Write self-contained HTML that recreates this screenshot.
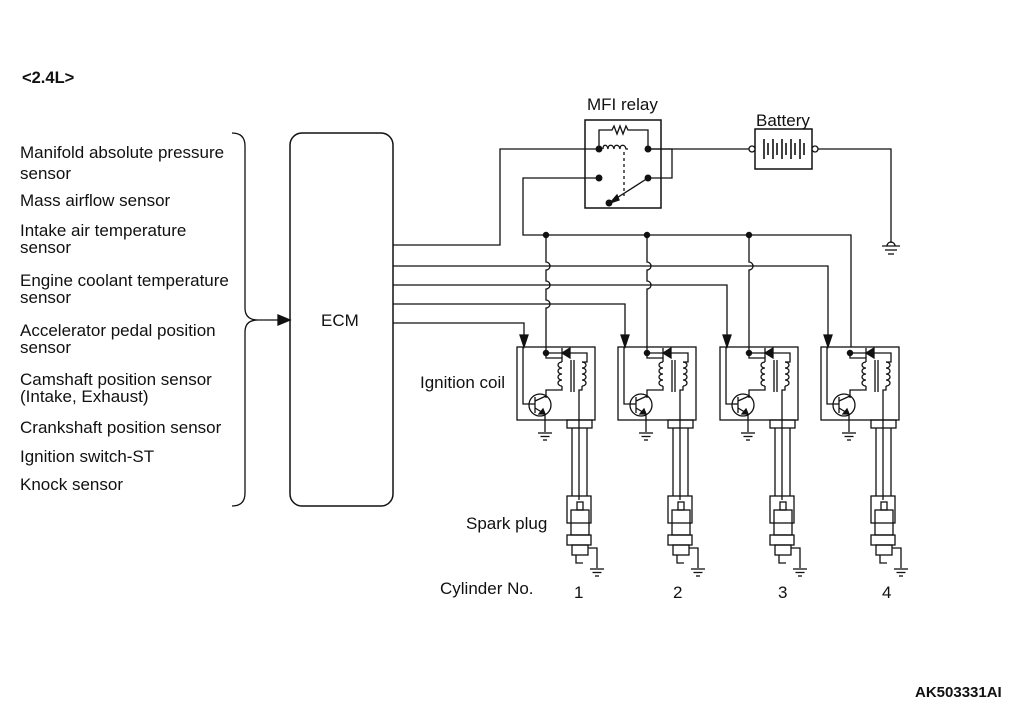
<!DOCTYPE html>
<html><head><meta charset="utf-8"><style>
html,body{margin:0;padding:0;background:#fff;}
svg{display:block;}
text{font-family:"Liberation Sans",Arial,sans-serif;fill:#111;}
</style></head><body>
<svg width="1010" height="709" viewBox="0 0 1010 709" xmlns="http://www.w3.org/2000/svg">
<defs>
<g id="gnd"><line x1="-7" y1="0" x2="7" y2="0"/><line x1="-4.5" y1="3.5" x2="4.5" y2="3.5"/><line x1="-2" y1="7" x2="2" y2="7"/></g>
<g id="coil">
 <rect x="517" y="347" width="78" height="73"/>
 <path d="M520,335 L528,335 L524,347 Z" fill="#111"/>
 <polyline points="523,347 523,404 531,404"/>
 <circle cx="546" cy="353" r="2.6" fill="#111"/>
 <polyline points="546,353 587,353 587,362 582,362"/>
 <path d="M562,348 L562,358 M562,353 L570,348 L570,358 Z" fill="#111"/>
 <polyline points="546,353 546,358 562,358 562,362"/>
 <path d="M562,362 a4,3 0 1 0 0,6 a4,3 0 1 0 0,6 a4,3 0 1 0 0,6 a4,3 0 1 0 0,6" />
 <path d="M582,362 a4,3 0 1 1 0,6 a4,3 0 1 1 0,6 a4,3 0 1 1 0,6 a4,3 0 1 1 0,6" />
 <line x1="571" y1="360" x2="571" y2="392"/><line x1="574" y1="360" x2="574" y2="392"/>
 <polyline points="562,386 562,390 546,390 546,398"/>
 <polyline points="582,386 582,390 579,390 579,500"/>
 <circle cx="540" cy="405" r="11"/>
 <line x1="535" y1="397" x2="535" y2="413"/>
 <line x1="531" y1="404" x2="535" y2="404"/>
 <line x1="535" y1="401" x2="546" y2="396"/>
 <line x1="535" y1="408" x2="545" y2="414"/>
 <path d="M545,414 L539,414 L543,409 Z" fill="#111"/>
 <polyline points="545,414 545,432"/>
 <use href="#gnd" x="545" y="433"/>
 <rect x="567" y="420" width="25" height="8"/>
 <line x1="572" y1="428" x2="572" y2="496"/><line x1="587" y1="428" x2="587" y2="496"/>
 <rect x="567" y="496" width="24" height="27"/>
 <rect x="577" y="502" width="6" height="8"/>
 <rect x="571" y="510" width="18" height="25"/>
 <rect x="567" y="535" width="24" height="10"/>
 <rect x="572" y="545" width="16" height="10"/>
 <polyline points="576,555 576,563 583,563"/>
 <polyline points="588,548 597,548 597,568"/>
 <use href="#gnd" x="597" y="569"/>
</g>
</defs>
<g stroke="#111" stroke-width="1.3" fill="none">
 <path d="M232,133 Q245,133 245,146 L245,308 Q245,320 258,320 Q245,320 245,332 L245,493 Q245,506 232,506"/>
 <line x1="258" y1="320" x2="280" y2="320"/>
 <path d="M278,315 L290,320 L278,325 Z" fill="#111"/>
 <rect x="290" y="133" width="103" height="373" rx="12" stroke-width="1.5"/>
 <rect x="585" y="120" width="76" height="88" stroke-width="1.5"/>
 <polyline points="599,149 599,130 612,130 614,126 617,134 620,126 623,134 626,126 628,130 648,130 648,149"/>
 <path d="M603,149 c0,-5 4,-5 5,0 c0,-5 5,-5 6,0 c0,-5 5,-5 6,0 c0,-5 5,-5 6,0 c1,0 1,0 2,0"/>
 <line x1="624" y1="152" x2="624" y2="196" stroke-dasharray="3,3"/>
 <line x1="648" y1="178" x2="612" y2="201"/>
 <path d="M610,203 L617,195 L619,200 Z" fill="#111"/>
 <circle cx="599" cy="149" r="2.8" fill="#111"/><circle cx="648" cy="149" r="2.8" fill="#111"/>
 <circle cx="599" cy="178" r="2.8" fill="#111"/><circle cx="648" cy="178" r="2.8" fill="#111"/>
 <circle cx="609" cy="203" r="2.8" fill="#111"/>
 <polyline points="393,245 500,245 500,149 599,149"/>
 <line x1="648" y1="149" x2="749" y2="149"/>
 <polyline points="648,149 672,149 672,178 648,178"/>
 <polyline points="599,178 523,178 523,235 851,235 851,347"/>
 <rect x="755" y="129" width="57" height="40" stroke-width="1.5"/>
 <circle cx="752" cy="149" r="3" fill="#fff"/><circle cx="815" cy="149" r="3" fill="#fff"/>
 <g stroke-width="1.6">
 <line x1="764" y1="139" x2="764" y2="159"/><line x1="768" y1="143" x2="768" y2="155"/>
 <line x1="773" y1="139" x2="773" y2="159"/><line x1="777" y1="143" x2="777" y2="155"/>
 <line x1="782" y1="139" x2="782" y2="159"/><line x1="786" y1="143" x2="786" y2="155"/>
 <line x1="791" y1="139" x2="791" y2="159"/><line x1="795" y1="143" x2="795" y2="155"/>
 <line x1="800" y1="139" x2="800" y2="159"/><line x1="804" y1="143" x2="804" y2="155"/>
 </g>
 <polyline points="818,149 891,149 891,243"/>
 <path d="M887,246 a4,4 0 0 1 8,0"/>
 <line x1="882" y1="246" x2="900" y2="246"/><line x1="885" y1="250" x2="897" y2="250"/><line x1="888" y1="254" x2="894" y2="254"/>
 <circle cx="546" cy="235" r="2.6" fill="#111"/><circle cx="647" cy="235" r="2.6" fill="#111"/><circle cx="749" cy="235" r="2.6" fill="#111"/>
 <path d="M546,235 L546,262 a4,4 0 0 1 0,8 L546,281 a4,4 0 0 1 0,8 L546,300 a4,4 0 0 1 0,8 L546,353"/>
 <path d="M647,235 L647,262 a4,4 0 0 1 0,8 L647,281 a4,4 0 0 1 0,8 L647,353"/>
 <path d="M749,235 L749,262 a4,4 0 0 1 0,8 L749,353"/>
 <polyline points="393,266 828,266 828,336"/>
 <polyline points="393,285 727,285 727,336"/>
 <polyline points="393,304 625,304 625,336"/>
 <polyline points="393,323 524,323 524,336"/>
 <use href="#coil"/>
 <use href="#coil" x="101"/>
 <use href="#coil" x="203"/>
 <use href="#coil" x="304"/>
</g>
<text x="22" y="83" font-size="16.5" font-weight="bold">&lt;2.4L&gt;</text>
<g font-size="17">
<text x="20" y="158">Manifold absolute pressure</text>
<text x="20" y="179">sensor</text>
<text x="20" y="206">Mass airflow sensor</text>
<text x="20" y="236">Intake air temperature</text>
<text x="20" y="253">sensor</text>
<text x="20" y="286">Engine coolant temperature</text>
<text x="20" y="303">sensor</text>
<text x="20" y="336">Accelerator pedal position</text>
<text x="20" y="353">sensor</text>
<text x="20" y="385">Camshaft position sensor</text>
<text x="20" y="402">(Intake, Exhaust)</text>
<text x="20" y="433">Crankshaft position sensor</text>
<text x="20" y="462">Ignition switch-ST</text>
<text x="20" y="490">Knock sensor</text>
<text x="321" y="326">ECM</text>
<text x="587" y="110">MFI relay</text>
<text x="756" y="126">Battery</text>
<text x="420" y="388">Ignition coil</text>
<text x="466" y="529">Spark plug</text>
<text x="440" y="594">Cylinder No.</text>
<text x="574" y="598">1</text>
<text x="673" y="598">2</text>
<text x="778" y="598">3</text>
<text x="882" y="598">4</text>
</g>
<text x="915" y="697" font-size="15" font-weight="bold">AK503331AI</text>
</svg>
</body></html>
